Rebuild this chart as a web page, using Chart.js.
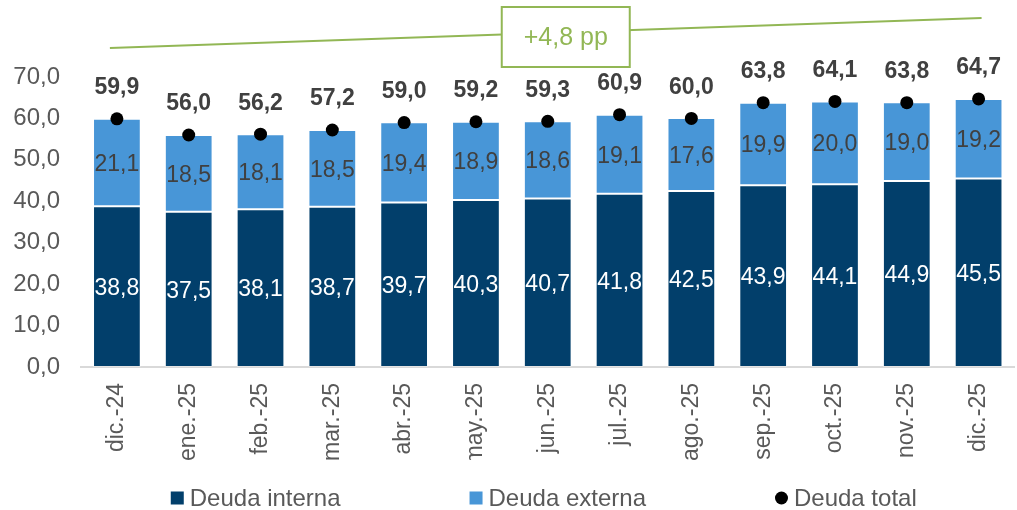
<!DOCTYPE html>
<html>
<head>
<meta charset="utf-8">
<script src="https://cdn.jsdelivr.net/npm/chart.js@4/dist/chart.umd.min.js"></script>
<style>
  body { margin: 0; background: #fff; }
  #wrap { width: 1017px; height: 510px; position: relative; }
</style>
</head>
<body>
<div id="wrap"><canvas id="myChart"></canvas></div>
<script>
const months = ['dic.-24', 'ene.-25', 'feb.-25', 'mar.-25', 'abr.-25', 'may.-25', 'jun.-25',
                'jul.-25', 'ago.-25', 'sep.-25', 'oct.-25', 'nov.-25', 'dic.-25'];
const deudaInterna = [38.8, 37.5, 38.1, 38.7, 39.7, 40.3, 40.7, 41.8, 42.5, 43.9, 44.1, 44.9, 45.5];
const deudaExterna = [21.1, 18.5, 18.1, 18.5, 19.4, 18.9, 18.6, 19.1, 17.6, 19.9, 20.0, 19.0, 19.2];
const deudaTotal = [59.9, 56.0, 56.2, 57.2, 59.0, 59.2, 59.3, 60.9, 60.0, 63.8, 64.1, 63.8, 64.7];
const yTicks = [0, 10, 20, 30, 40, 50, 60, 70];
const changeText = '+4,8 pp';

const FONT = '"Liberation Sans", Arial, sans-serif';
const DARK = '#023F6B';
const LIGHT = '#4896D7';
const GREEN = '#92B755';
const GREY = '#595959';
const LABEL = '#404040';

fmt = (v) => v.toFixed(1).replace('.', ',');

// the plot area in the original runs a few px past the right edge
const widenX = {
    id: 'widenX',
    afterLayout(chart) {
        const s = chart.scales.x;
        s.right += 4;
        s.width += 4;
        s.configure();
    }
};

// value labels on bars and above the total points
const valueLabels = {
    id: 'valueLabels',
    afterDatasetsDraw(chart) {
        const ctx = chart.ctx;
        ctx.save();
        ctx.textAlign = 'center';
        ctx.textBaseline = 'middle';
        chart.data.datasets.forEach((ds, i) => {
            const meta = chart.getDatasetMeta(i);
            meta.data.forEach((el, j) => {
                const v = ds.data[j];
                if (ds.type === 'line') {
                    ctx.font = 'bold 23px ' + FONT;
                    ctx.fillStyle = LABEL;
                    ctx.fillText(fmt(v), el.x, el.y - 31);
                } else {
                    ctx.font = '23px ' + FONT;
                    ctx.fillStyle = i === 0 ? '#ffffff' : LABEL;
                    ctx.fillText(fmt(v), el.x, (el.y + el.base) / 2 + 2);
                }
            });
        });
        ctx.restore();
    }
};

// green trend line with the change box above the bars
const trendBox = {
    id: 'trendBox',
    afterDraw(chart) {
        const ctx = chart.ctx;
        const x = chart.scales.x;
        const top = chart.chartArea.top;
        const x1 = x.getPixelForValue(0) - 7, y1 = top - 29;
        const x2 = x.getPixelForValue(months.length - 1) + 3, y2 = top - 59;
        ctx.save();
        ctx.strokeStyle = GREEN;
        ctx.lineWidth = 2;
        ctx.beginPath();
        ctx.moveTo(x1, y1);
        ctx.lineTo(x2, y2);
        ctx.stroke();
        const cx = (x1 + x2) / 2 + 20, cy = top - 40;
        ctx.fillStyle = '#ffffff';
        ctx.fillRect(cx - 64, cy - 30, 128, 60);
        ctx.strokeRect(cx - 64, cy - 30, 128, 60);
        ctx.fillStyle = GREEN;
        ctx.font = '25px ' + FONT;
        ctx.textAlign = 'center';
        ctx.textBaseline = 'middle';
        ctx.fillText(changeText, cx, cy + 1);
        ctx.restore();
    }
};

// legend drawn below the axis labels
const bottomLegend = {
    id: 'bottomLegend',
    afterDraw(chart) {
        const ctx = chart.ctx;
        const items = chart.data.datasets.slice().sort((a, b) => a.legendIndex - b.legendIndex);
        ctx.save();
        ctx.font = '24px ' + FONT;
        const gap = 129, box = 13, textGap = 6;
        const widths = items.map(d => box + textGap + ctx.measureText(d.label).width);
        const total = widths.reduce((a, b) => a + b, 0) + gap * (items.length - 1);
        const area = chart.chartArea;
        let x = (area.left + area.right) / 2 - total / 2 - 2;
        const y = 498;
        ctx.textBaseline = 'middle';
        ctx.textAlign = 'left';
        items.forEach((d, i) => {
            ctx.fillStyle = d.type === 'line' ? d.pointBackgroundColor : d.backgroundColor;
            if (d.type === 'line') {
                ctx.beginPath();
                ctx.arc(x + box / 2, y, 6.5, 0, Math.PI * 2);
                ctx.fill();
            } else {
                ctx.fillRect(x, y - box / 2, box, box);
            }
            ctx.fillStyle = GREY;
            ctx.fillText(d.label, x + box + textGap, y + 1);
            x += widths[i] + gap;
        });
        ctx.restore();
    }
};

displayChart = () => {
    const ctx = document.getElementById('myChart').getContext('2d');
    new Chart(ctx, {
        type: 'bar',
        data: {
            labels: months,
            datasets: [{
                label: 'Deuda interna',
                legendIndex: 0,
                data: deudaInterna,
                backgroundColor: DARK,
                borderColor: 'rgba(255,255,255,0.3)',
                borderWidth: 1,
                borderSkipped: false
            }, {
                label: 'Deuda externa',
                legendIndex: 1,
                data: deudaExterna,
                backgroundColor: LIGHT,
                borderColor: 'rgba(255,255,255,0.3)',
                borderWidth: 1,
                borderSkipped: false
            }, {
                type: 'line',
                label: 'Deuda total',
                legendIndex: 2,
                data: deudaTotal,
                stack: 'total',
                showLine: false,
                order: -1,
                pointRadius: 6.5,
                pointBackgroundColor: '#000000',
                pointBorderWidth: 0
            }]
        },
        options: {
            responsive: true,
            maintainAspectRatio: false,
            animation: false,
            layout: { padding: { top: 77, left: 0, right: 0, bottom: 50 } },
            datasets: {
                bar: { categoryPercentage: 1, barPercentage: 0.665 }
            },
            scales: {
                x: {
                    stacked: true,
                    grid: { display: false, drawTicks: false },
                    border: { display: true, color: '#D9D9D9', width: 2 },
                    ticks: {
                        autoSkip: false,
                        minRotation: 90,
                        maxRotation: 90,
                        padding: 16,
                        color: GREY,
                        font: { family: FONT, size: 23 }
                    },
                    afterFit: (s) => { s.height = 93; s.paddingLeft = 0; s.paddingRight = 0; }
                },
                y: {
                    stacked: true,
                    min: 0,
                    max: 70,
                    grid: { display: false, drawTicks: false },
                    border: { display: false },
                    afterBuildTicks: (s) => { s.ticks = yTicks.map(v => ({ value: v })); },
                    ticks: {
                        padding: 21,
                        color: GREY,
                        font: { family: FONT, size: 24 },
                        callback: (v) => fmt(v)
                    },
                    afterFit: (s) => { s.width = 81; s.paddingTop = 0; s.paddingBottom = 0; }
                }
            },
            plugins: {
                legend: { display: false },
                tooltip: { enabled: false }
            }
        },
        plugins: [widenX, valueLabels, trendBox, bottomLegend]
    });
}

displayChart();
</script>
</body>
</html>
